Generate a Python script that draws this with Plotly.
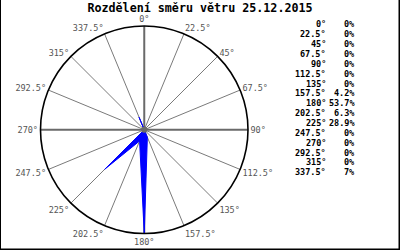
import plotly.graph_objects as go

title_text = "Rozdělení směru větru 25.12.2015"
directions = [0, 22.5, 45, 67.5, 90, 112.5, 135, 157.5, 180, 202.5, 225, 247.5, 270, 292.5, 315, 337.5]
shares = [0, 0, 0, 0, 0, 0, 0, 4.2, 53.7, 6.3, 28.9, 0, 0, 0, 0, 7]
dir_labels = [f"{d:g}°" for d in directions]
share_labels = [f"{s:g}%" for s in shares]

rmax = max(shares)
fig = go.Figure()

# spokes
main_dirs = [d for d in directions if d % 90 == 0]
minor_dirs = [d for d in directions if d % 90 != 0]
for d in minor_dirs:
    fig.add_trace(go.Scatterpolar(r=[0, rmax], theta=[d, d], mode="lines",
                                  line=dict(color="#7a7a7a", width=1), hoverinfo="skip", showlegend=False))
for d in main_dirs:
    fig.add_trace(go.Scatterpolar(r=[0, rmax], theta=[d, d], mode="lines",
                                  line=dict(color="#6a6a6a", width=2), hoverinfo="skip", showlegend=False))

# data polygon
fig.add_trace(go.Scatterpolar(r=shares + [shares[0]], theta=directions + [directions[0]],
                              mode="lines", fill="toself", fillcolor="#0000ff",
                              line=dict(color="#0000ff", width=1), showlegend=False))
# center dot
fig.add_trace(go.Scatterpolar(r=[0], theta=[0], mode="markers",
                              marker=dict(color="#6a6a6a", size=6), showlegend=False))

fig.update_layout(
    width=400, height=250,
    margin=dict(l=0, r=0, t=0, b=0),
    paper_bgcolor="white",
    showlegend=False,
    polar=dict(
        domain=dict(x=[40.5/400, 248/400], y=[(250-233.5)/250, (250-26)/250]),
        bgcolor="white",
        radialaxis=dict(visible=False, range=[0, rmax]),
        angularaxis=dict(
            rotation=90, direction="clockwise",
            tickmode="array", tickvals=directions, ticktext=dir_labels,
            ticks="", showgrid=False,
            showline=True, linecolor="black", linewidth=1.6,
            tickfont=dict(family="DejaVu Sans Mono", size=8.5, color="#555555"),
        ),
    ),
    title=dict(text="<b>" + title_text + "</b>", x=0.5, xanchor="center", y=1 - 7.5/250, yanchor="middle",
               font=dict(family="DejaVu Sans Mono", size=11.7, color="black")),
)

anns = []
row0 = 24.3
step = 9.87
for i, (dl, sl) in enumerate(zip(dir_labels, share_labels)):
    yp = 1 - (row0 + i * step) / 250
    anns.append(dict(text="<b>" + dl + "</b>", x=328/400, y=yp, xref="paper", yref="paper", xanchor="right",
                     yanchor="middle", showarrow=False,
                     font=dict(family="DejaVu Sans Mono", size=8.5, color="black")))
    anns.append(dict(text="<b>" + sl + "</b>", x=356.5/400, y=yp, xref="paper", yref="paper", xanchor="right",
                     yanchor="middle", showarrow=False,
                     font=dict(family="DejaVu Sans Mono", size=8.5, color="black")))
fig.update_layout(annotations=anns)

fig.update_layout(shapes=[
    dict(type="line", xref="paper", yref="paper", x0=0, x1=0, y0=0, y1=1, line=dict(color="black", width=2)),
    dict(type="line", xref="paper", yref="paper", x0=1, x1=1, y0=0, y1=1, line=dict(color="black", width=3)),
    dict(type="line", xref="paper", yref="paper", x0=0, x1=1, y0=0, y1=0, line=dict(color="black", width=3)),
])

fig.write_html("out.html")
